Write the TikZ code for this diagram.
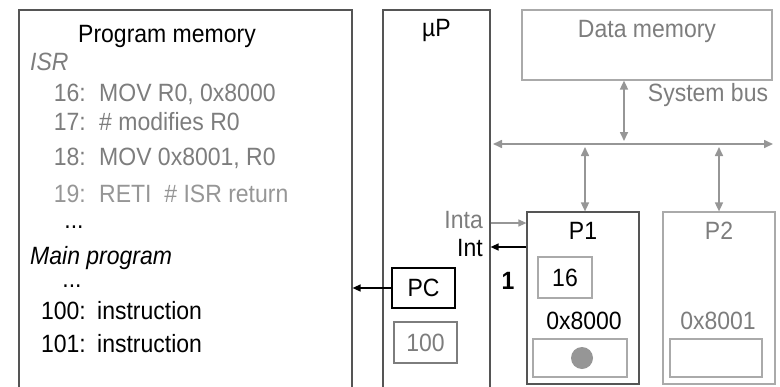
\documentclass[tikz,border=0pt]{standalone}
\usepackage{fontspec}
\setmainfont{Liberation Sans}[FakeStretch=0.92]
\usetikzlibrary{arrows.meta,positioning}
\definecolor{DarkLine}{RGB}{85,85,85}
\definecolor{LiteLine}{RGB}{170,170,170}
\definecolor{BusGray}{RGB}{150,150,150}
\definecolor{TextGray}{RGB}{125,125,125}

\begin{document}
\begin{tikzpicture}[x=1pt, y=-1pt, font=\fontsize{25}{29}\selectfont,
    txt/.style={inner sep=0pt, text height=18.5pt, text depth=5.5pt},
    blkbox/.style={draw=DarkLine, line width=1.2pt, inner sep=0pt},
    litebox/.style={draw=LiteLine, line width=1.2pt, inner sep=0pt},
    busarrow/.style={{Triangle[length=9pt,width=8pt]}-{Triangle[length=9pt,width=8pt]}, BusGray, line width=1.6pt}]
  \useasboundingbox (0,0) rectangle (780,386);
  \clip (0,0) rectangle (780,386);

  % boxes
  \node[blkbox, minimum width=333pt, minimum height=410pt] (progmem) at (185.5,215) {};
  \node[blkbox, minimum width=107pt, minimum height=410pt] (up) at (436.5,215) {};
  \node[litebox, minimum width=250pt, minimum height=70pt] (datamem) at (647,45) {};
  \node[blkbox, minimum width=112pt, minimum height=172pt] (pone) at (583,298) {};
  \node[litebox, minimum width=112pt, minimum height=172pt] (ptwo) at (719,298) {};

  % titles
  \node[txt, anchor=north] (pmtitle) at (167,24) {Program memory};
  \node[txt, below=8pt of up.north] (uptitle) {µP};
  \node[txt, TextGray, below=9pt of datamem.north] (dmtitle) {Data memory};
  \node[txt, below=9pt of pone.north] (ponetitle) {P1};
  \node[txt, TextGray, below=9pt of ptwo.north] (ptwotitle) {P2};

  % program listing
  \node[txt, TextGray, anchor=west] (isr) at (30,64) {\itshape ISR};
  \node[txt, TextGray, anchor=east] (n16) at (86,95) {16:};
  \node[txt, TextGray, anchor=west] (c16) at (99,95) {MOV R0, 0x8000};
  \node[txt, TextGray, anchor=east] (n17) at (86,124) {17:};
  \node[txt, TextGray, anchor=west] (c17) at (99,124) {\# modifies R0};
  \node[txt, TextGray, anchor=east] (n18) at (86,159) {18:};
  \node[txt, TextGray, anchor=west] (c18) at (99,159) {MOV 0x8001, R0};
  \node[txt, BusGray, anchor=east] (n19) at (86,196) {19:};
  \node[txt, BusGray, anchor=west] (c19) at (99,196) {RETI~ \# ISR return};
  \node[txt] (dotsa) at (74,222) {...};
  \node[txt, anchor=west] (mainprog) at (30,257.5) {\itshape Main program};
  \node[txt] (dotsb) at (72,281) {...};
  \node[txt, anchor=east] (n100) at (86,313) {100:};
  \node[txt, anchor=west] (c100) at (97,313) {instruction};
  \node[txt, anchor=east] (n101) at (86,346) {101:};
  \node[txt, anchor=west] (c101) at (97,346) {instruction};

  % inside the processor
  \node[draw, line width=1.2pt, minimum width=63pt, minimum height=40pt, inner sep=0pt] (pc) at (423.5,288) {PC};
  \node[litebox, TextGray, minimum width=63pt, minimum height=41pt] (pcval) at (425.5,342.5) {100};

  % peripherals
  \node[litebox, minimum width=54pt, minimum height=41pt] (reg) at (565,277.5) {16};
  \node[txt] (addrone) at (584,323) {0x8000};
  \node[txt, TextGray] (addrtwo) at (718,323) {0x8001};
  \node[litebox, minimum width=94pt, minimum height=38pt] (cellone) at (580,358) {};
  \node[litebox, minimum width=92pt, minimum height=38pt] (celltwo) at (716,358) {};
  \fill[BusGray] (cellone.center) ++(2,0) circle (11pt);

  % system bus
  \coordinate (busL) at (493,144);
  \coordinate (busR) at (773,144);
  \coordinate (busdm) at (624,144);
  \coordinate (busone) at (585,144);
  \coordinate (bustwo) at (719,144);
  \draw[busarrow] (busL) -- (busR);
  \draw[busarrow, shorten >=3pt] (datamem.south -| busdm) -- (busdm);
  \draw[busarrow, shorten <=3pt] (busone) -- (busone |- pone.north);
  \draw[busarrow, shorten <=3pt] (bustwo) -- (bustwo |- ptwo.north);
  \node[txt, TextGray] (bustext) at (708,94.5) {System bus};

  % interrupt lines
  \node[txt, TextGray, anchor=east] (inta) at (483,222) {Inta};
  \node[txt, anchor=east] (intl) at (483,249.5) {Int};
  \node[txt] (one) at (508,283) {\bfseries 1};
  \draw[-{Triangle[length=8pt,width=7pt]}, BusGray, line width=1.2pt] (up.east |- 0,223) -- (pone.west |- 0,223);
  \draw[-{Triangle[length=8pt,width=7pt]}, line width=1.4pt] (pone.west |- 0,247) -- (up.east |- 0,247);
  \draw[-{Triangle[length=8pt,width=7pt]}, line width=1.4pt] (pc.west) -- (progmem.east |- pc.west);
\end{tikzpicture}
\end{document}
